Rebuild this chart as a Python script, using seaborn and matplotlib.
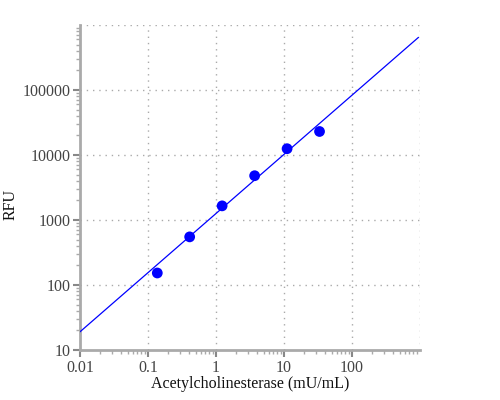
import numpy as np
import pandas as pd
import seaborn as sns
import matplotlib
matplotlib.use("Agg")
import matplotlib.pyplot as plt
from matplotlib.ticker import LogLocator, NullFormatter, FixedLocator, FixedFormatter

# data
conc = [0.137, 0.41, 1.23, 3.7, 11.1, 33.3]
rfu = [153, 550, 1650, 4800, 12500, 23000]
fit_slope = 0.91
fit_log_intercept = 3.10  # log10(RFU) at 1 mU/mL
fit_range = [0.01, 950]
x_ticks = [0.01, 0.1, 1, 10, 100]
x_labels = ["0.01", "0.1", "1", "10", "100"]
y_ticks = [10, 100, 1000, 10000, 100000]
y_labels = ["10", "100", "1000", "10000", "100000"]

sns.set_style("white")
plt.rcParams['font.family'] = ['Liberation Serif', 'DejaVu Serif']

fig = plt.figure(figsize=(5, 4), dpi=100)
ax = fig.add_axes([0.16, 0.125, 0.68, 0.8125])

ax.set_xscale("log")
ax.set_yscale("log")
ax.set_xlim(0.01, 1000)
ax.set_ylim(10, 1e6)

# fit line
lx = np.logspace(np.log10(fit_range[0]), np.log10(fit_range[1]), 50)
ly = 10 ** (fit_log_intercept + fit_slope * np.log10(lx))
line_df = pd.DataFrame({"x": lx, "y": ly})
sns.lineplot(data=line_df, x="x", y="y", ax=ax, color="#0000ff", linewidth=0.9, zorder=3)

df = pd.DataFrame({"conc": conc, "rfu": rfu})
sns.scatterplot(data=df, x="conc", y="rfu", ax=ax, color="#0000ff", s=60,
                edgecolor="none", zorder=4)

grid_kw = dict(color="#aaaaaa", linestyle=(0, (1, 3.5)), linewidth=1.0, zorder=1)
for v in x_ticks[1:] + [1000]:
    ax.axvline(v, **grid_kw)
for v in y_ticks[1:] + [1e6]:
    ax.axhline(v, **grid_kw)

ax.xaxis.set_major_locator(FixedLocator(x_ticks))
ax.xaxis.set_major_formatter(FixedFormatter(x_labels))
ax.yaxis.set_major_locator(FixedLocator(y_ticks))
ax.yaxis.set_major_formatter(FixedFormatter(y_labels))
ax.xaxis.set_minor_locator(LogLocator(base=10, subs=np.arange(2, 10), numticks=20))
ax.yaxis.set_minor_locator(LogLocator(base=10, subs=np.arange(2, 10), numticks=20))
ax.xaxis.set_minor_formatter(NullFormatter())
ax.yaxis.set_minor_formatter(NullFormatter())

for s in ["top", "right"]:
    ax.spines[s].set_visible(False)
for s in ["left", "bottom"]:
    ax.spines[s].set_color("#aaaaaa")
    ax.spines[s].set_linewidth(2)

ax.tick_params(axis="both", which="major", direction="out", length=5, width=1.5,
               color="#888888", labelcolor="#444444", labelsize=11.5, pad=2,
               left=True, bottom=True)
ax.tick_params(axis="both", which="minor", direction="out", length=3, width=1,
               color="#aaaaaa", left=True, bottom=True)

ax.set_xlabel("Acetylcholinesterase (mU/mL)", fontsize=11.5, color="#111111")
ax.set_ylabel("RFU", fontsize=11.5, color="#111111")
ax.xaxis.label.set_va("center")
ax.yaxis.label.set_va("center")
ax.xaxis.set_label_coords(0.5, -0.105)
ax.yaxis.set_label_coords(-0.203, 0.449)

fig.savefig("out.png", dpi=100)
